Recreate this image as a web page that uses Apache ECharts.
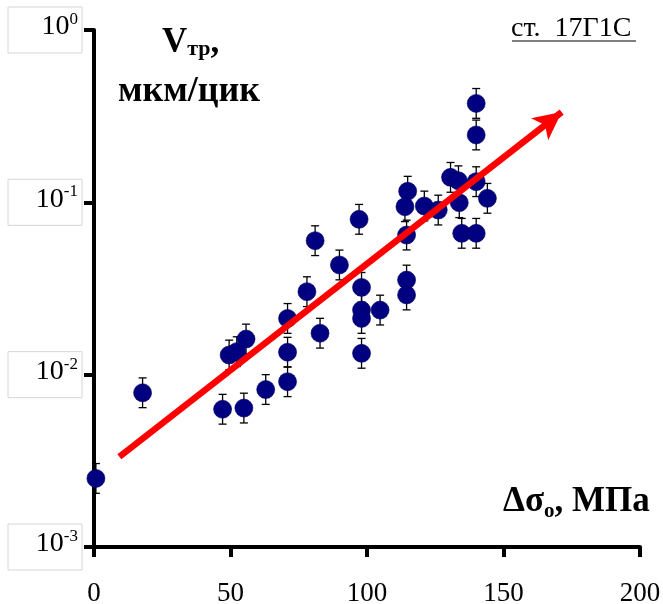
<!DOCTYPE html>
<html>
<head>
<meta charset="utf-8">
<script src="https://cdn.jsdelivr.net/npm/echarts@6/dist/echarts.min.js"></script>
<style>
  html, body { margin: 0; padding: 0; background: #fff; }
  #main { width: 663px; height: 604px; }
</style>
</head>
<body>
<div id="main"></div>
<script>
// Δσ, МПа
const xVals = [0.7, 17.8, 47.1, 54.9, 62.9, 49.5, 52.3, 55.7, 70.9, 70.9, 70.9, 82.8, 78.0, 89.9, 81.0,
  97.1, 98.0, 98.0, 98.0, 98.0, 104.8, 114.5, 114.5, 114.5, 114.9, 113.9, 121.0, 126.1, 130.6, 133.5,
  133.8, 140.0, 140.0, 140.0, 144.1, 134.7, 140.0];
// V, мкм/цик
const yVals = [0.0025, 0.00785, 0.0063, 0.0064, 0.0082, 0.0130, 0.0136, 0.0161, 0.0091, 0.0135, 0.0212, 0.0174, 0.0303, 0.0433, 0.0599,
  0.0797, 0.0321, 0.0237, 0.0212, 0.0133, 0.0237, 0.0354, 0.0290, 0.0646, 0.116, 0.0943, 0.0952, 0.0902, 0.1396, 0.1334,
  0.0995, 0.375, 0.246, 0.1318, 0.1055, 0.0661, 0.0661];
const errFactor = 1.22; // error bar half-size (multiplicative)
// red trend arrow, tail -> tip
const arrowX = [9.3, 171.3];
const arrowY = [0.00334, 0.334];
const xTicks = [0, 50, 100, 150, 200];

const serif = 'Liberation Serif';
const chart = echarts.init(document.getElementById('main'));

const points = xVals.map((x, i) => [x, yVals[i]]);
const errData = xVals.map((x, i) => [x, yVals[i] / errFactor, yVals[i] * errFactor]);

const option = {
  animation: false,
  backgroundColor: '#fff',
  textStyle: { fontFamily: serif },
  grid: { left: 94, right: 23, top: 30, bottom: 57, containLabel: false, outerBoundsMode: 'none' },
  xAxis: {
    type: 'value',
    min: xTicks[0],
    max: xTicks[xTicks.length - 1],
    interval: 50,
    splitLine: { show: false },
    axisLine: { lineStyle: { color: '#000', width: 4 } },
    axisTick: { length: 10, lineStyle: { color: '#000', width: 4 } },
    axisLabel: { color: '#000', fontSize: 27, fontFamily: serif, margin: 33 }
  },
  yAxis: {
    type: 'log',
    logBase: 10,
    min: 0.001,
    max: 1,
    splitNumber: 3,
    splitLine: { show: false },
    axisLine: { lineStyle: { color: '#000', width: 4 } },
    axisTick: { length: 10, lineStyle: { color: '#000', width: 4 } },
    minorTick: { show: false },
    axisLabel: {
      margin: 12,
      align: 'right',
      width: 64,
      padding: [4, 4, 12, 6],
      borderColor: '#d6d6d6',
      borderWidth: 1,
      fontFamily: serif,
      formatter: v => '{b|10}{s|' + Math.round(Math.log10(v)) + '}',
      rich: {
        b: { fontSize: 28, fontFamily: serif, color: '#000', lineHeight: 30, verticalAlign: 'bottom' },
        s: { fontSize: 17, fontFamily: serif, color: '#000', lineHeight: 30, verticalAlign: 'top' }
      }
    }
  },
  graphic: [
    {
      type: 'text', x: 162, y: 20, silent: true,
      style: {
        text: '{v|V}{t|тр}{v|,}',
        font: 'bold 35px Liberation Serif',
        rich: {
          v: { fontSize: 35, fontWeight: 'bold', fontFamily: serif, fill: '#000', lineHeight: 40, verticalAlign: 'bottom' },
          t: { fontSize: 22, fontWeight: 'bold', fontFamily: serif, fill: '#000', lineHeight: 34, verticalAlign: 'bottom' }
        }
      }
    },
    {
      type: 'text', x: 118, y: 74, silent: true,
      style: { text: 'мкм/цик', font: 'bold 36px Liberation Serif', fill: '#000' }
    },
    {
      type: 'text', x: 503, y: 484, silent: true,
      style: {
        text: '{v|Δσ}{t|o}{v|, МПа}',
        font: 'bold 35px Liberation Serif',
        rich: {
          v: { fontSize: 35, fontWeight: 'bold', fontFamily: serif, fill: '#000', lineHeight: 38, verticalAlign: 'top' },
          t: { fontSize: 21, fontWeight: 'bold', fontFamily: serif, fill: '#000', lineHeight: 38, verticalAlign: 'bottom' }
        }
      }
    },
    {
      type: 'text', x: 511, y: 15, silent: true,
      style: { text: 'ст.  17Г1С', font: '28px Liberation Serif', fill: '#000' }
    },
    {
      type: 'line', silent: true,
      shape: { x1: 512, y1: 41, x2: 636, y2: 41 },
      style: { stroke: '#000', lineWidth: 1.2 }
    }
  ],
  series: [
    {
      type: 'custom',
      name: 'err',
      z: 1,
      data: errData,
      encode: { x: 0, y: [1, 2] },
      renderItem: (params, api) => {
        const x = api.value(0);
        const lo = api.coord([x, api.value(1)]);
        const hi = api.coord([x, api.value(2)]);
        const cap = 4;
        const st = { stroke: '#000', lineWidth: 1.3 };
        return {
          type: 'group',
          children: [
            { type: 'line', shape: { x1: lo[0], y1: lo[1], x2: hi[0], y2: hi[1] }, style: st },
            { type: 'line', shape: { x1: lo[0] - cap, y1: lo[1], x2: lo[0] + cap, y2: lo[1] }, style: st },
            { type: 'line', shape: { x1: hi[0] - cap, y1: hi[1], x2: hi[0] + cap, y2: hi[1] }, style: st }
          ]
        };
      }
    },
    {
      type: 'scatter',
      z: 2,
      symbol: 'circle',
      symbolSize: 18,
      itemStyle: { color: '#000080', borderColor: '#00005a', borderWidth: 0.6, opacity: 1 },
      data: points
    },
    {
      type: 'line',
      z: 5,
      showSymbol: false,
      lineStyle: { opacity: 0 },
      data: arrowX.map((x, i) => [x, arrowY[i]]),
      markLine: {
        silent: true,
        symbol: ['none', 'arrow'],
        symbolSize: [21, 28],
        label: { show: false },
        lineStyle: { color: '#ff0000', width: 6.5, type: 'solid', cap: 'butt' },
        data: [[{ coord: [arrowX[0], arrowY[0]] }, { coord: [arrowX[1], arrowY[1]] }]]
      }
    }
  ]
};
chart.setOption(option);
</script>
</body>
</html>
